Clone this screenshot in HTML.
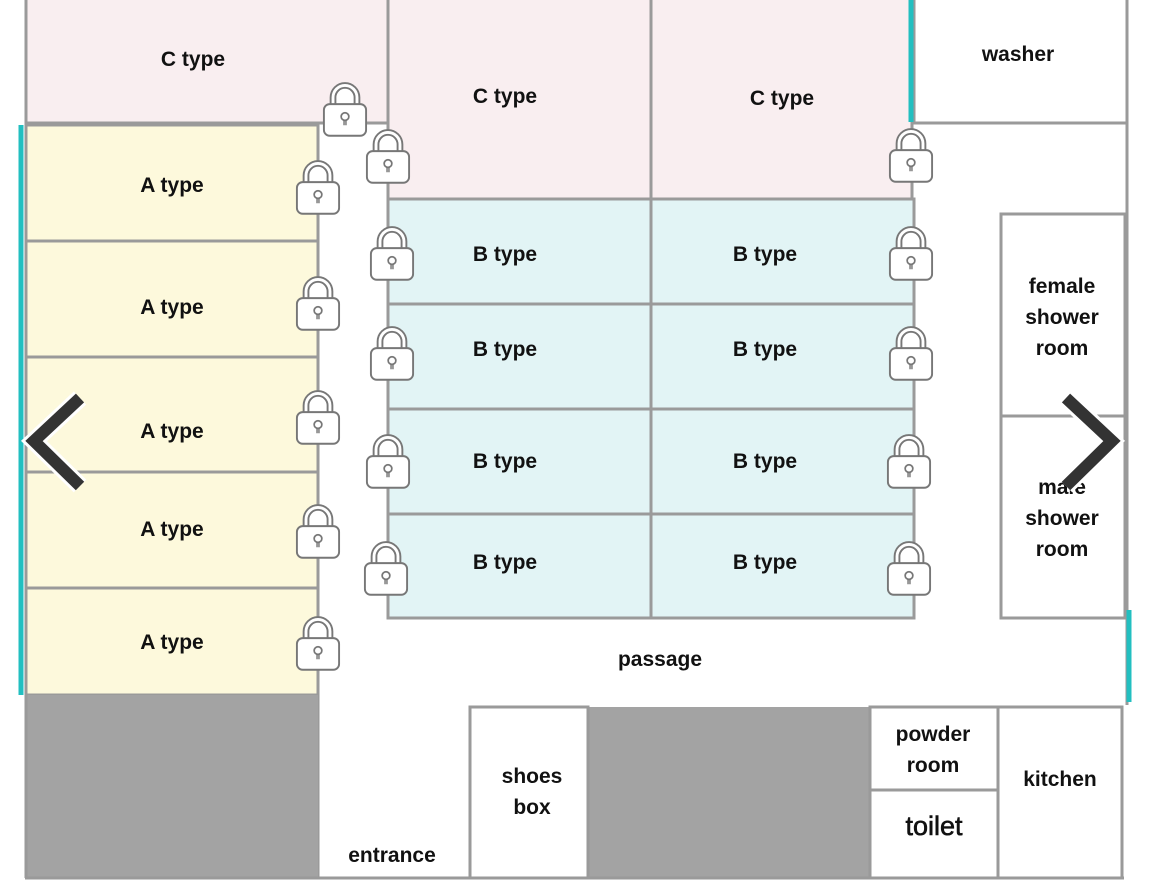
<!DOCTYPE html>
<html><head><meta charset="utf-8"><style>
html,body{margin:0;padding:0;background:#fff;}
svg{display:block}
text{font-family:"Liberation Sans",sans-serif;font-weight:bold;font-size:21px;fill:#111;text-anchor:middle}
</style></head><body>
<svg width="1150" height="890" viewBox="0 0 1150 890" xmlns="http://www.w3.org/2000/svg">
<defs>
<symbol id="lk" viewBox="0 0 48 64">
<path d="M9 30 V22 A15 15 0 0 1 39 22 V30" fill="#fff" stroke="#777" stroke-width="2"/>
<path d="M14 30 V22 A10 10 0 0 1 34 22 V30" fill="none" stroke="#777" stroke-width="2"/>
<rect x="2" y="29" width="44" height="33" rx="6" fill="#fff" stroke="#777" stroke-width="2"/>
<circle cx="24" cy="42" r="4" fill="none" stroke="#777" stroke-width="1.8"/>
<path d="M23 46 V51 M25 46 V51" stroke="#777" stroke-width="1.5"/>
</symbol>
</defs>
<g stroke="#9a9a9a" stroke-width="3">
<!-- C types -->
<rect x="26" y="-2" width="362" height="125" fill="#f9eef0"/>
<rect x="388" y="-2" width="263" height="201" fill="#f9eef0"/>
<rect x="651" y="-2" width="261" height="201" fill="#f9eef0"/>
<rect x="914" y="-2" width="213" height="125" fill="#fff"/>
<line x1="1127" y1="123" x2="1127" y2="705"/>
<!-- A types -->
<rect x="26" y="125" width="292" height="116" fill="#fdf9dc"/>
<rect x="26" y="241" width="292" height="116" fill="#fdf9dc"/>
<rect x="26" y="357" width="292" height="115" fill="#fdf9dc"/>
<rect x="26" y="472" width="292" height="116" fill="#fdf9dc"/>
<rect x="26" y="588" width="292" height="107" fill="#fdf9dc"/>
<!-- B types -->
<rect x="388" y="199" width="263" height="105" fill="#e2f4f5"/>
<rect x="651" y="199" width="263" height="105" fill="#e2f4f5"/>
<rect x="388" y="304" width="263" height="105" fill="#e2f4f5"/>
<rect x="651" y="304" width="263" height="105" fill="#e2f4f5"/>
<rect x="388" y="409" width="263" height="105" fill="#e2f4f5"/>
<rect x="651" y="409" width="263" height="105" fill="#e2f4f5"/>
<rect x="388" y="514" width="263" height="104" fill="#e2f4f5"/>
<rect x="651" y="514" width="263" height="104" fill="#e2f4f5"/>
<line x1="388" y1="123" x2="388" y2="199"/>
<line x1="318" y1="695" x2="318" y2="878"/>
<!-- showers -->
<rect x="1001" y="214" width="124" height="202" fill="#fff"/>
<rect x="1001" y="416" width="124" height="202" fill="#fff"/>
<!-- bottom -->
<rect x="26" y="695" width="292" height="183" fill="#a3a3a3" stroke="none"/>
<rect x="588" y="707" width="282" height="171" fill="#a3a3a3" stroke="none"/>
<rect x="470" y="707" width="118" height="171" fill="#fff"/>
<rect x="870" y="707" width="128" height="83" fill="#fff"/>
<rect x="870" y="790" width="128" height="88" fill="#fff"/>
<rect x="998" y="707" width="124" height="171" fill="#fff"/>
<line x1="26" y1="0" x2="26" y2="878"/>
<line x1="25" y1="878" x2="1124" y2="878"/>
</g>
<!-- teal -->
<g stroke="#22bfc0" stroke-width="5">
<line x1="21" y1="125" x2="21" y2="695"/>
<line x1="911" y1="0" x2="911" y2="122"/>
<line x1="1129" y1="610" x2="1129" y2="702"/>
</g>
<!-- locks -->
<use href="#lk" x="322" y="76" width="46" height="62"/>
<use href="#lk" x="365" y="123" width="46" height="62"/>
<use href="#lk" x="295" y="154" width="46" height="62"/>
<use href="#lk" x="888" y="122" width="46" height="62"/>
<use href="#lk" x="369" y="220" width="46" height="62"/>
<use href="#lk" x="888" y="220" width="46" height="62"/>
<use href="#lk" x="295" y="270" width="46" height="62"/>
<use href="#lk" x="369" y="320" width="46" height="62"/>
<use href="#lk" x="888" y="320" width="46" height="62"/>
<use href="#lk" x="295" y="384" width="46" height="62"/>
<use href="#lk" x="365" y="428" width="46" height="62"/>
<use href="#lk" x="886" y="428" width="46" height="62"/>
<use href="#lk" x="295" y="498" width="46" height="62"/>
<use href="#lk" x="363" y="535" width="46" height="62"/>
<use href="#lk" x="886" y="535" width="46" height="62"/>
<use href="#lk" x="295" y="610" width="46" height="62"/>
<!-- labels -->
<text x="193" y="66">C type</text>
<text x="505" y="103">C type</text>
<text x="782" y="105">C type</text>
<text x="1018" y="61">washer</text>
<text x="172" y="192">A type</text>
<text x="172" y="314">A type</text>
<text x="172" y="438">A type</text>
<text x="172" y="536">A type</text>
<text x="172" y="649">A type</text>
<text x="505" y="261">B type</text><text x="765" y="261">B type</text>
<text x="505" y="356">B type</text><text x="765" y="356">B type</text>
<text x="505" y="468">B type</text><text x="765" y="468">B type</text>
<text x="505" y="569">B type</text><text x="765" y="569">B type</text>
<text x="1062" y="293">female</text>
<text x="1062" y="324">shower</text>
<text x="1062" y="355">room</text>
<text x="1062" y="494">male</text>
<text x="1062" y="525">shower</text>
<text x="1062" y="556">room</text>
<text x="660" y="666">passage</text>
<text x="392" y="862">entrance</text>
<text x="532" y="783">shoes</text>
<text x="532" y="814">box</text>
<text x="933" y="741">powder</text>
<text x="933" y="772">room</text>
<text x="934" y="835" style="font-size:27px;font-weight:normal;stroke:#111;stroke-width:0.6">toilet</text>
<text x="1060" y="786">kitchen</text>
<!-- arrows -->
<g fill="none" stroke-linecap="butt" stroke-linejoin="miter">
<polyline points="80,398 34,441 80,486" stroke="#fff" stroke-width="18"/>
<polyline points="80,398 34,441 80,486" stroke="#333" stroke-width="12"/>
<polyline points="1066,398 1112,441 1066,486" stroke="#fff" stroke-width="18"/>
<polyline points="1066,398 1112,441 1066,486" stroke="#333" stroke-width="12"/>
</g>
</svg>
</body></html>
